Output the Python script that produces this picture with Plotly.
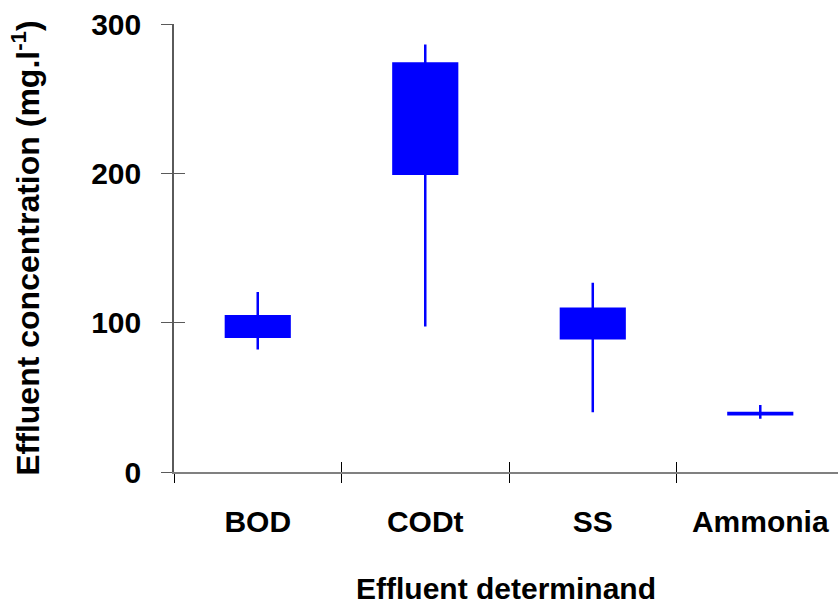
import plotly.graph_objects as go

# Effluent quality summary: box = interquartile range, whiskers = min/max
determinands = ["BOD", "CODt", "SS", "Ammonia"]
q1 = [90.5, 199.7, 89.6, 38.6]
median = [96.0, 240.0, 100.0, 39.0]
q3 = [104.3, 273.5, 109.4, 39.5]
lower = [82.0, 97.5, 40.0, 35.7]
upper = [120.5, 286.2, 126.7, 44.8]

y_ticks = [0, 100, 200, 300]

BLUE = "#0000FF"
AXIS = "#5a5a5a"
FONT = "Liberation Sans, Arial, sans-serif"

fig = go.Figure()
fig.add_trace(go.Box(
    x=determinands,
    q1=q1, median=median, q3=q3,
    lowerfence=lower, upperfence=upper,
    fillcolor=BLUE,
    line=dict(color=BLUE, width=2.5),
    whiskerwidth=0,
    width=0.38,
    boxpoints=False,
    showlegend=False,
    hoverinfo="skip",
))

x_range = [-0.5, 3.464]

fig.update_layout(
    width=838, height=605,
    margin=dict(l=174, r=0, t=24, b=133),
    paper_bgcolor="white", plot_bgcolor="white",
    font=dict(family=FONT, color="black", size=30, weight="bold"),
    xaxis=dict(
        type="category",
        range=x_range,
        tickson="boundaries",
        ticks="outside", ticklen=9, tickwidth=1, tickcolor="black",
        showline=True, linecolor="#808080", linewidth=2,
        showgrid=False, zeroline=False,
        tickfont=dict(size=30, weight="bold"),
        ticklabelstandoff=22,
        title=dict(text="Effluent determinand", standoff=42,
                   font=dict(size=30, weight="bold")),
    ),
    xaxis2=dict(
        overlaying="x", range=x_range,
        tickmode="array", tickvals=[-0.5, 0.5, 1.5, 2.5, 3.5],
        ticks="inside", ticklen=10, tickwidth=1, tickcolor="black",
        showticklabels=False, showgrid=False, zeroline=False, showline=False,
        anchor="y",
    ),
    yaxis=dict(
        range=[0, 300],
        tickmode="array", tickvals=y_ticks,
        ticks="outside", ticklen=11, tickwidth=1, tickcolor=AXIS,
        showline=True, linecolor=AXIS, linewidth=1.5,
        showgrid=False, zeroline=False,
        tickfont=dict(size=30, weight="bold"),
        ticklabelstandoff=14,
        title=dict(text="Effluent concentration (mg.l<sup>-1</sup>)", standoff=42,
                   font=dict(size=32, weight="bold")),
    ),
    yaxis2=dict(
        overlaying="y", range=[0, 300],
        tickmode="array", tickvals=y_ticks,
        ticks="inside", ticklen=11, tickwidth=1, tickcolor=AXIS,
        showticklabels=False, showgrid=False, zeroline=False, showline=False,
        anchor="x", side="left",
    ),
)

# invisible trace so the overlay axes are drawn
fig.add_trace(go.Scatter(x=[0], y=[0], xaxis="x2", yaxis="y2", mode="markers",
                         marker=dict(opacity=0), showlegend=False, hoverinfo="skip"))

fig.write_html("out.html")
